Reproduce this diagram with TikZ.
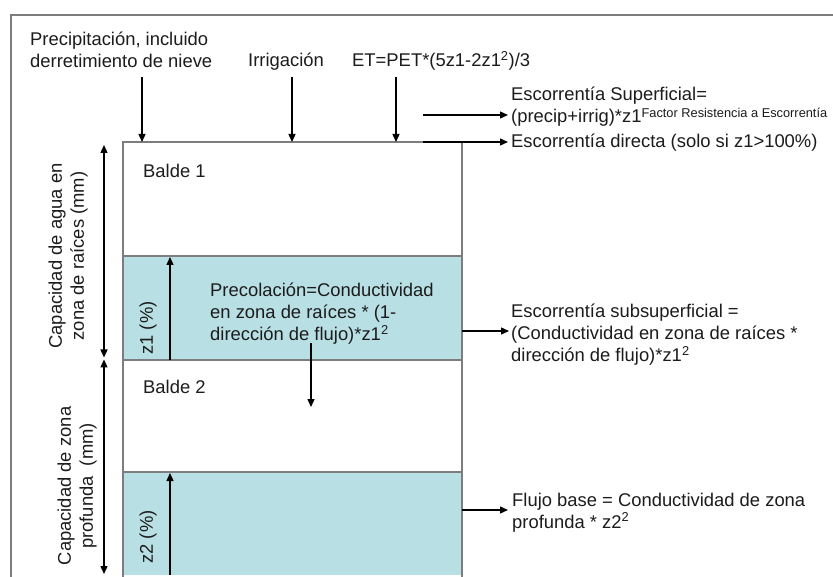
\documentclass[tikz,border=0pt]{standalone}
\usepackage{fontspec}
\setmainfont{Liberation Sans}
\usetikzlibrary{arrows.meta}
\definecolor{bandteal}{RGB}{184,223,227}
\definecolor{boxgray}{RGB}{125,125,125}
\definecolor{txt}{RGB}{28,28,28}
\begin{document}
\begin{tikzpicture}[x=1pt,y=-1pt,
  lbl/.style={inner sep=0pt, text=txt, font=\fontsize{18.4}{22}\selectfont, align=left, anchor=base west},
  rot/.style={inner sep=0pt, text=txt, font=\fontsize{18.4}{22}\selectfont, align=center, rotate=90, anchor=center},
  arr/.style={-{Triangle[length=8pt,width=7pt]}, line width=1.3pt, black},
  darr/.style={{Triangle[length=8pt,width=7pt]}-{Triangle[length=8pt,width=7pt]}, line width=1.3pt, black},
  grayline/.style={boxgray, line width=1.5pt},
  ]
\useasboundingbox (0,0) rectangle (833,577);
\fill[white] (0,0) rectangle (833,577);
% outer frame
\draw[grayline] (11,580) -- (11,15) -- (840,15);
% bands
\fill[bandteal] (123,256) rectangle (462,360);
\fill[bandteal] (123,472) rectangle (462,575);
% bucket box
\draw[grayline] (123,580) -- (123,142) -- (462,142) -- (462,580);
\draw[grayline] (123,256) -- (462,256);
\draw[grayline] (123,360) -- (462,360);
\draw[grayline] (123,472) -- (462,472);

% texts (multi-line nodes are placed by the baseline of their last line)
\node[lbl] (precip) at (30,68) {Precipitación, incluido\\derretimiento de nieve};
\node[lbl] (irrig) at (248,67) {Irrigación};
\node[lbl] (et) at (352,67) {ET=PET*(5z1-2z1\textsuperscript{2})/3};
\node[lbl] (esup) at (511,123) {Escorrentía Superficial=\\(precip+irrig)*z1\raisebox{5.5pt}{\fontsize{12.8}{12.8}\selectfont Factor Resistencia a Escorrentía}};
\node[lbl] (edir) at (511,148) {Escorrentía directa (solo si z1>100\%)};
\node[lbl] (balde1) at (143,178) {Balde 1};
\node[lbl] (balde2) at (143,393) {Balde 2};
\node[lbl] (perc) at (210,341) {Precolación=Conductividad\\en zona de raíces * (1-\\dirección de flujo)*z1\textsuperscript{2}};
\node[lbl] (esub) at (511,362) {Escorrentía subsuperficial =\\(Conductividad en zona de raíces *\\dirección de flujo)*z1\textsuperscript{2}};
\node[lbl] (fbase) at (512,528) {Flujo base = Conductividad de zona\\profunda * z2\textsuperscript{2}};
\node[rot] (capA) at (68,256) {Capacidad de agua en\\zona de raíces (mm)};
\node[rot] (capB) at (77,486) {Capacidad de zona\\profunda~ (mm)};
\node[rot] (z1lbl) at (148,328) {z1 (\%)};
\node[rot] (z2lbl) at (148,537) {z2 (\%)};

% arrow end points
\coordinate (a1s) at (142,77);  \coordinate (a1e) at (142,142);
\coordinate (a2s) at (292,77);  \coordinate (a2e) at (292,142);
\coordinate (a3s) at (396,77);  \coordinate (a3e) at (396,142);
\coordinate (sups) at (423,115); \coordinate (supe) at (508,115);
\coordinate (dirs) at (423,142); \coordinate (dire) at (508,142);
\coordinate (subs) at (462,331); \coordinate (sube) at (509,331);
\coordinate (fbs) at (462,510);  \coordinate (fbe) at (508,510);
\coordinate (pcs) at (311,343);  \coordinate (pce) at (311,407);
\coordinate (z1s) at (170,360);  \coordinate (z1e) at (170,257);
\coordinate (z2s) at (170,575);  \coordinate (z2e) at (170,473);
\coordinate (dAt) at (104,145);  \coordinate (dAb) at (104,357.5);
\coordinate (dBt) at (104,359.5); \coordinate (dBb) at (104,574);

\draw[arr] (a1s) -- (a1e);
\draw[arr] (a2s) -- (a2e);
\draw[arr] (a3s) -- (a3e);
\draw[arr] (sups) -- (supe);
\draw[arr] (dirs) -- (dire);
\draw[arr] (subs) -- (sube);
\draw[arr] (fbs) -- (fbe);
\draw[arr] (pcs) -- (pce);
\draw[arr] (z1s) -- (z1e);
\draw[arr] (z2s) -- (z2e);
\draw[darr] (dAt) -- (dAb);
\draw[darr] (dBt) -- (dBb);
\end{tikzpicture}
\end{document}
